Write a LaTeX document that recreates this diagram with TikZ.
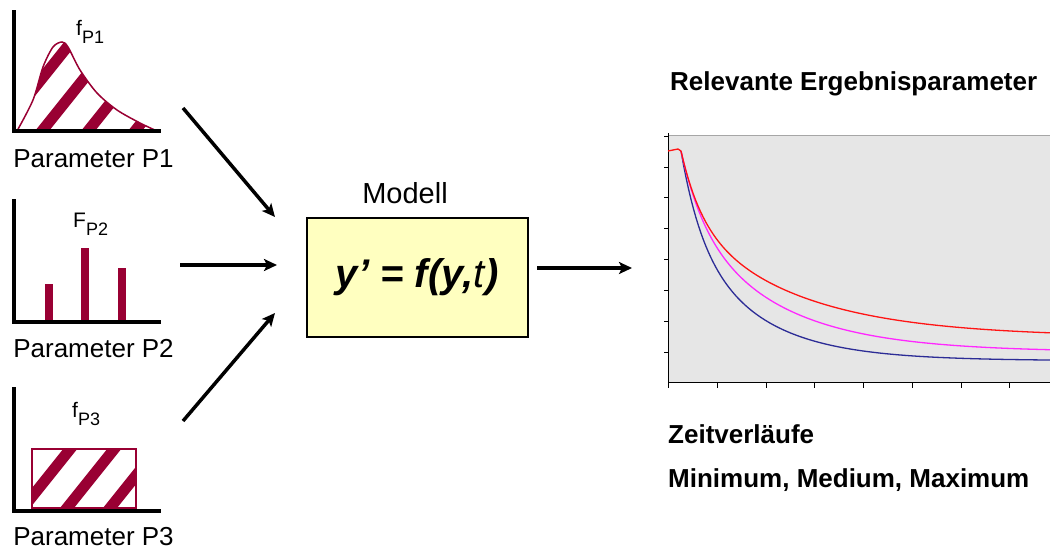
\documentclass[tikz,border=0pt]{standalone}
\usepackage{fontspec}
\setmainfont{Liberation Sans}
\usepackage{tikz}
\usetikzlibrary{arrows.meta, positioning}
\usepackage{xcolor}
\definecolor{hatchred}{RGB}{153,0,51}
\definecolor{chartgray}{RGB}{230,230,230}
\definecolor{modelyellow}{RGB}{255,255,192}
\definecolor{curvered}{RGB}{255,20,20}
\definecolor{curvemag}{RGB}{255,40,255}
\definecolor{curveblue}{RGB}{44,44,150}
\newcommand{\distlabel}[2]{#1\raisebox{-8pt}{\fontsize{18}{18}\selectfont #2}}

\begin{document}
\begin{tikzpicture}[
				x=1pt, y=-1pt,
				axisline/.style={line width=3.5pt, black},
				hatch/.style={line width=11pt, hatchred},
				outline/.style={line width=1.5pt, hatchred},
				conn/.style={line width=3.5pt, -{Stealth[length=13pt, width=12pt, inset=3pt]}},
				modelbox/.style={draw, line width=1.5pt, fill=modelyellow, minimum width=221pt, minimum height=119pt, inner sep=0pt, font=\fontsize{40}{44}\selectfont},
				dlabel/.style={anchor=base west, inner sep=0pt, font=\fontsize{21}{24}\selectfont},
				plabel/.style={anchor=base, inner sep=0pt, font=\fontsize{26}{30}\selectfont},
				ctitle/.style={anchor=base west, inner sep=0pt, font=\bfseries\fontsize{26}{30}\selectfont},
				tick/.style={line width=1pt},
				curve/.style={line width=1.3pt, line join=round, domain=0:369, samples=150}
			]
			\useasboundingbox (0,0) rectangle (1050,549);
			% parameter P1
			\begin{scope}
				\clip plot[smooth] coordinates {(17,131) (33,100) (43,67) (53,47) (62,42) (68,47) (80,70) (97,93) (117,110) (140,123) (157,131)} -- cycle;
				\foreach \s in {0,42,88,135}
					\draw[hatch] ({\s-8},141) -- ({\s+100},6);
			\end{scope}
			\draw[outline] plot[smooth] coordinates {(17,131) (33,100) (43,67) (53,47) (62,42) (68,47) (80,70) (97,93) (117,110) (140,123) (157,131)};
			\draw[axisline] (14,10) -- (14,131) -- (161,131);
			\node[dlabel] (f1) at (76,35) {\distlabel{f}{P1}};
			\node[plabel] (par1) at (93.5,167) {Parameter P1};
			% parameter P2
			\foreach \bx/\by in {45/284, 81/248, 118/268}
				\fill[hatchred] (\bx,\by) rectangle ({\bx+8},322);
			\draw[axisline] (14,199) -- (14,322) -- (161,322);
			\node[dlabel] (f2) at (73,227) {\distlabel{F}{P2}};
			\node[plabel] (par2) at (93.5,357) {Parameter P2};
			% parameter P3
			\begin{scope}
				\clip (32,449) rectangle (136,508);
				\foreach \s in {23,67,110}
					\draw[hatch] ({\s-8},518) -- ({\s+100},383);
			\end{scope}
			\draw[outline] (32,449) rectangle (136,508);
			\draw[axisline] (14,387) -- (14,511) -- (161,511);
			\node[dlabel] (f3) at (72,417) {\distlabel{f}{P3}};
			\node[plabel] (par3) at (93.5,545) {Parameter P3};
			% model
			\node[modelbox] (model) at (417.5,277.5) {\textbf{\textit{y’ = f(y,}}\textit{t}\textbf{\textit{)}}};
			\node[anchor=base, inner sep=0pt, font=\fontsize{29}{32}\selectfont] (mname) at (405,203) {Modell};
			\coordinate (p1out) at (183,108);
			\coordinate (p1in) at (275,217);
			\coordinate (p2out) at (180,265);
			\coordinate (p2in) at (277,265);
			\coordinate (p3out) at (183,421);
			\coordinate (p3in) at (275,313);
			\coordinate (mout) at (537,268);
			\coordinate (cin) at (632,268);
			\draw[conn] (p1out) -- (p1in);
			\draw[conn] (p2out) -- (p2in);
			\draw[conn] (p3out) -- (p3in);
			\draw[conn] (mout) -- (cin);
			% result chart
			\node[ctitle] (title) at (670,90) {Relevante Ergebnisparameter};
			\fill[chartgray] (668,135) rectangle (1050,382);
			\draw[gray!70, line width=1pt] (668,135) -- (1050,135);
			\draw[tick] (668,133) -- (668,382) -- (1050,382);
			\foreach \ty in {136,167,197,228,259,290,321,352}
				\draw[tick] (664,\ty) -- (668,\ty);
			\foreach \tx in {668,717,766,814,863,912,961,1009}
				\draw[tick] (\tx,382) -- (\tx,388);
			\draw[curveblue, curve] plot ({681+\x}, {151+78.7*(1-exp(-\x/20))+131*(1-exp(-\x/70))});
			\draw[curvemag, curve] plot ({681+\x}, {151+64*(1-exp(-\x/22))+137*(1-exp(-\x/90))});
			\draw[curvered, curve] (668,151) -- (678,149) -- (681,151);
			\draw[curvered, curve] plot ({681+\x}, {151+66*(1-exp(-\x/20))+120*(1-exp(-\x/110))});
			\node[ctitle] (zeit) at (668,443) {Zeitverläufe};
			\node[ctitle] (range) at (668,487) {Minimum, Medium, Maximum};
		\end{tikzpicture}
\end{document}
